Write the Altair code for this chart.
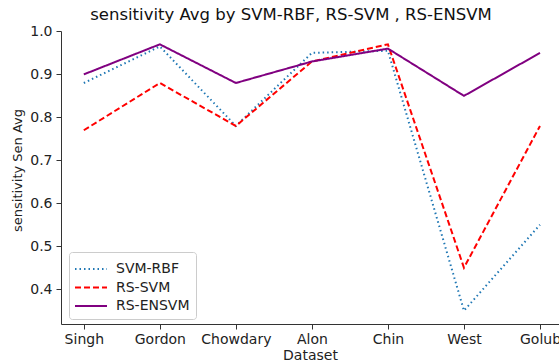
import altair as alt
import pandas as pd

datasets = ["Singh", "Gordon", "Chowdary", "Alon", "Chin", "West", "Golub"]
series_names = ["SVM-RBF", "RS-SVM", "RS-ENSVM"]
svm_rbf = [0.88, 0.965, 0.78, 0.95, 0.955, 0.35, 0.55]
rs_svm = [0.77, 0.88, 0.78, 0.93, 0.97, 0.45, 0.78]
rs_ensvm = [0.90, 0.97, 0.88, 0.93, 0.96, 0.85, 0.95]
colors = ["#1f77b4", "#ff0000", "#800080"]
dashes = [[1.5, 3], [6, 3], [1, 0]]

rows = []
for name, vals in zip(series_names, [svm_rbf, rs_svm, rs_ensvm]):
    for i, (d, v) in enumerate(zip(datasets, vals)):
        rows.append({"series": name, "idx": i, "dataset": d, "value": v})
df = pd.DataFrame(rows)

font = "DejaVu Sans"
label_expr = "[" + ",".join("'%s'" % d for d in datasets) + "][datum.value]"

chart = alt.Chart(df).mark_line(strokeWidth=2, clip=True).encode(
    x=alt.X("idx:Q",
            scale=alt.Scale(domain=[-0.3, 6.25], nice=False, zero=False),
            axis=alt.Axis(values=list(range(len(datasets))), labelExpr=label_expr,
                          title="Dataset", grid=False, tickSize=5, labelPadding=3,
                          titlePadding=2, labelFontSize=14, titleFontSize=14,
                          titleFontWeight="normal", labelColor="#222", titleColor="#222",
                          domainColor="#333", tickColor="#333", labelFlush=False)),
    y=alt.Y("value:Q",
            scale=alt.Scale(domain=[0.319, 1.001], nice=False, zero=False),
            axis=alt.Axis(values=[0.4, 0.5, 0.6, 0.7, 0.8, 0.9, 1.0], format=".1f",
                          title="sensitivity Sen Avg", grid=False, tickSize=5,
                          labelPadding=4, titlePadding=5, labelFontSize=14,
                          titleFontSize=13, titleFontWeight="normal", titleY=139,
                          labelColor="#222", titleColor="#222",
                          domainColor="#333", tickColor="#333")),
    color=alt.Color("series:N",
                    scale=alt.Scale(domain=series_names, range=colors),
                    sort=series_names, title=None),
    strokeDash=alt.StrokeDash("series:N",
                              scale=alt.Scale(domain=series_names, range=dashes),
                              sort=series_names, title=None),
).properties(
    width=498,
    height=293,
    title=alt.TitleParams("sensitivity Avg by SVM-RBF, RS-SVM , RS-ENSVM",
                          fontSize=16.5, fontWeight="normal", font=font,
                          color="#111", anchor="middle", dx=-19, offset=1),
    padding={"left": 61, "top": 31, "right": 0, "bottom": 40},
    autosize=alt.AutoSizeParams(type="none"),
).configure_view(
    stroke=None
).configure_axis(
    labelFont=font, titleFont=font
).configure_legend(
    orient="none", legendX=8, legendY=221,
    strokeColor="#cccccc", fillColor="rgba(255,255,255,0.8)", cornerRadius=3,
    padding=6, symbolType="M-1.6,0H1.6", symbolSize=400, symbolStrokeWidth=2,
    symbolOffset=5,
    labelFont=font, labelFontSize=14, labelColor="#222", rowPadding=0.5,
    labelOffset=14
)

chart.save("out.html", embed_options={"renderer": "svg", "actions": False})
